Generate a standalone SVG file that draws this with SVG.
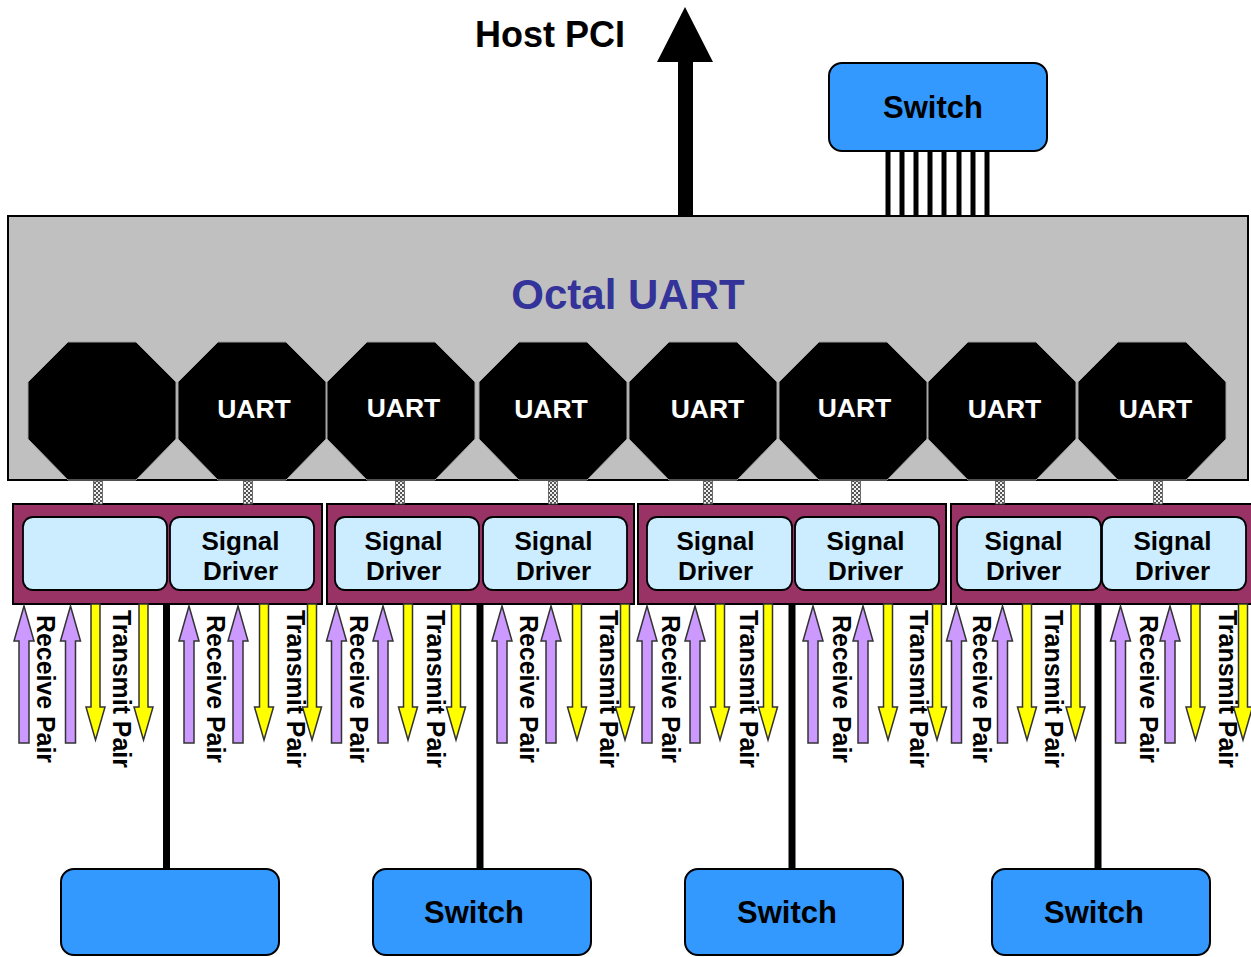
<svg xmlns="http://www.w3.org/2000/svg" xmlns:xlink="http://www.w3.org/1999/xlink" width="1251" height="957" viewBox="0 0 1251 957">
<style>
.t{font-family:"Liberation Sans",Arial,Helvetica,sans-serif;font-weight:bold}
.sw{fill:#3399FF;stroke:#000;stroke-width:2}
.swt{font-size:31px;fill:#000;text-anchor:middle}
.oct{fill:#000;stroke:#A0A0A0;stroke-width:1}
.ut{font-size:26.5px;fill:#fff;text-anchor:middle}
.board{fill:#993366;stroke:#000;stroke-width:2}
.drv{fill:#CCECFF;stroke:#000;stroke-width:1.8}
.dt{font-size:26px;fill:#000;text-anchor:middle}
.vt{font-size:26px;fill:#000}
.rx{fill:#CC99FF;stroke:#333;stroke-width:1.5}
.tx{fill:#FFFF00;stroke:#333;stroke-width:1.5}
.bus{stroke:#000;stroke-width:7}
.pin{stroke:#000;stroke-width:5}
.link{fill:url(#chk);stroke:#555;stroke-width:0.8}
</style>
<defs>
<pattern id="chk" width="4" height="4" patternUnits="userSpaceOnUse">
<rect width="4" height="4" fill="#eee"/>
<rect width="2" height="2" fill="#555"/>
<rect x="2" y="2" width="2" height="2" fill="#555"/>
</pattern>
<polygon id="octs" points="40,0 108,0 148,40 148,97 108,138 40,138 0,97 0,40"/>
<path id="up" d="M0,606 L10,641 L5,641 L5,743 L-5,743 L-5,641 L-10,641 Z"/>
<path id="down" d="M-4.5,604 L4.5,604 L4.5,707 L9.5,707 L0,740 L-9.5,707 L-4.5,707 Z"/>
</defs>
<rect width="1251" height="957" fill="#fff"/>

<g id="host-pci">
<text class="t" x="475" y="47" font-size="36" fill="#000">Host PCI</text>
</g>

<g id="switch-top">
<rect class="sw" x="829" y="63" width="218" height="88" rx="13"/>
<text class="t swt" x="933" y="118">Switch</text>
</g>

<g id="octal-uart">
<rect x="8" y="216" width="1240" height="264" fill="#C0C0C0" stroke="#000" stroke-width="2"/>
<text class="t" x="628" y="309" font-size="42" fill="#333399" text-anchor="middle">Octal UART</text>
</g>

<g id="uarts">
<g id="uart1"><use href="#octs" class="oct" x="28" y="342"/></g>
<g id="uart2"><use href="#octs" class="oct" x="178" y="342"/><text class="t ut" x="254" y="418">UART</text></g>
<g id="uart3"><use href="#octs" class="oct" x="327" y="342"/><text class="t ut" x="403.5" y="417">UART</text></g>
<g id="uart4"><use href="#octs" class="oct" x="479" y="342"/><text class="t ut" x="551" y="418">UART</text></g>
<g id="uart5"><use href="#octs" class="oct" x="629" y="342"/><text class="t ut" x="707.5" y="418">UART</text></g>
<g id="uart6"><use href="#octs" class="oct" x="779" y="342"/><text class="t ut" x="854.5" y="417">UART</text></g>
<g id="uart7"><use href="#octs" class="oct" x="928" y="342"/><text class="t ut" x="1004.5" y="418">UART</text></g>
<g id="uart8"><use href="#octs" class="oct" x="1078" y="342"/><text class="t ut" x="1155.5" y="418">UART</text></g>
</g>

<g id="board1">
<rect class="board" x="13" y="504" width="309" height="100"/>
<rect class="drv" x="23" y="517" width="144" height="73" rx="10"/>
<rect class="drv" x="170" y="517" width="144" height="73" rx="10"/>
<text class="t dt" x="240.5" y="550">Signal</text><text class="t dt" x="240.5" y="580">Driver</text>
</g>
<g id="board2">
<rect class="board" x="327" y="504" width="307" height="100"/>
<rect class="drv" x="335" y="517" width="144" height="73" rx="10"/>
<rect class="drv" x="483" y="517" width="144" height="73" rx="10"/>
<text class="t dt" x="403.5" y="550">Signal</text><text class="t dt" x="403.5" y="580">Driver</text>
<text class="t dt" x="553.5" y="550">Signal</text><text class="t dt" x="553.5" y="580">Driver</text>
</g>
<g id="board3">
<rect class="board" x="638" y="504" width="308" height="100"/>
<rect class="drv" x="647" y="517" width="145" height="73" rx="10"/>
<rect class="drv" x="795" y="517" width="144" height="73" rx="10"/>
<text class="t dt" x="715.5" y="550">Signal</text><text class="t dt" x="715.5" y="580">Driver</text>
<text class="t dt" x="865.5" y="550">Signal</text><text class="t dt" x="865.5" y="580">Driver</text>
</g>
<g id="board4">
<rect class="board" x="951" y="504" width="310" height="100"/>
<rect class="drv" x="957" y="517" width="144" height="73" rx="10"/>
<rect class="drv" x="1102" y="517" width="144" height="73" rx="10"/>
<text class="t dt" x="1023.5" y="550">Signal</text><text class="t dt" x="1023.5" y="580">Driver</text>
<text class="t dt" x="1172.5" y="550">Signal</text><text class="t dt" x="1172.5" y="580">Driver</text>
</g>

<g id="pair-labels">
<text class="t vt" transform="translate(37,615) rotate(90)" textLength="148" lengthAdjust="spacingAndGlyphs">Receive Pair</text>
<text class="t vt" transform="translate(113,610) rotate(90)" textLength="158" lengthAdjust="spacingAndGlyphs">Transmit Pair</text>
<text class="t vt" transform="translate(207,615) rotate(90)" textLength="148" lengthAdjust="spacingAndGlyphs">Receive Pair</text>
<text class="t vt" transform="translate(287,610) rotate(90)" textLength="158" lengthAdjust="spacingAndGlyphs">Transmit Pair</text>
<text class="t vt" transform="translate(350,615) rotate(90)" textLength="148" lengthAdjust="spacingAndGlyphs">Receive Pair</text>
<text class="t vt" transform="translate(427,610) rotate(90)" textLength="158" lengthAdjust="spacingAndGlyphs">Transmit Pair</text>
<text class="t vt" transform="translate(520,615) rotate(90)" textLength="148" lengthAdjust="spacingAndGlyphs">Receive Pair</text>
<text class="t vt" transform="translate(600,610) rotate(90)" textLength="158" lengthAdjust="spacingAndGlyphs">Transmit Pair</text>
<text class="t vt" transform="translate(662,615) rotate(90)" textLength="148" lengthAdjust="spacingAndGlyphs">Receive Pair</text>
<text class="t vt" transform="translate(740,610) rotate(90)" textLength="158" lengthAdjust="spacingAndGlyphs">Transmit Pair</text>
<text class="t vt" transform="translate(833,615) rotate(90)" textLength="148" lengthAdjust="spacingAndGlyphs">Receive Pair</text>
<text class="t vt" transform="translate(910,610) rotate(90)" textLength="158" lengthAdjust="spacingAndGlyphs">Transmit Pair</text>
<text class="t vt" transform="translate(973,615) rotate(90)" textLength="148" lengthAdjust="spacingAndGlyphs">Receive Pair</text>
<text class="t vt" transform="translate(1045,610) rotate(90)" textLength="158" lengthAdjust="spacingAndGlyphs">Transmit Pair</text>
<text class="t vt" transform="translate(1140,615) rotate(90)" textLength="148" lengthAdjust="spacingAndGlyphs">Receive Pair</text>
<text class="t vt" transform="translate(1219,610) rotate(90)" textLength="158" lengthAdjust="spacingAndGlyphs">Transmit Pair</text>
</g>

<g id="bottom-switches">
<g id="switch-b1"><rect class="sw" x="61" y="869" width="218" height="86" rx="13"/></g>
<g id="switch-b2"><rect class="sw" x="373" y="869" width="218" height="86" rx="13"/><text class="t swt" x="474" y="923">Switch</text></g>
<g id="switch-b3"><rect class="sw" x="685" y="869" width="218" height="86" rx="13"/><text class="t swt" x="787" y="923">Switch</text></g>
<g id="switch-b4"><rect class="sw" x="992" y="869" width="218" height="86" rx="13"/><text class="t swt" x="1094" y="923">Switch</text></g>
</g>

<g id="connectors">
<polygon points="678,216 678,62 657,62 685,7 713,62 693,62 693,216" fill="#000"/>
<line class="pin" x1="888" y1="151" x2="888" y2="216"/>
<line class="pin" x1="902" y1="151" x2="902" y2="216"/>
<line class="pin" x1="916" y1="151" x2="916" y2="216"/>
<line class="pin" x1="930" y1="151" x2="930" y2="216"/>
<line class="pin" x1="944" y1="151" x2="944" y2="216"/>
<line class="pin" x1="959" y1="151" x2="959" y2="216"/>
<line class="pin" x1="973" y1="151" x2="973" y2="216"/>
<line class="pin" x1="987" y1="151" x2="987" y2="216"/>
<rect class="link" x="93.5" y="481" width="9" height="23"/>
<rect class="link" x="243.5" y="481" width="9" height="23"/>
<rect class="link" x="395.5" y="481" width="9" height="23"/>
<rect class="link" x="548.5" y="481" width="9" height="23"/>
<rect class="link" x="703.5" y="481" width="9" height="23"/>
<rect class="link" x="851.5" y="481" width="9" height="23"/>
<rect class="link" x="995.5" y="481" width="9" height="23"/>
<rect class="link" x="1153.5" y="481" width="9" height="23"/>
<line class="bus" x1="166.5" y1="605" x2="166.5" y2="869"/>
<line class="bus" x1="480" y1="605" x2="480" y2="869"/>
<line class="bus" x1="792" y1="605" x2="792" y2="869"/>
<line class="bus" x1="1098" y1="605" x2="1098" y2="869"/>
<use href="#up" class="rx" x="24"/><use href="#up" class="rx" x="70.5"/>
<use href="#down" class="tx" x="95.5"/><use href="#down" class="tx" x="143.5"/>
<use href="#up" class="rx" x="189"/><use href="#up" class="rx" x="238"/>
<use href="#down" class="tx" x="264"/><use href="#down" class="tx" x="312"/>
<use href="#up" class="rx" x="336.5"/><use href="#up" class="rx" x="383"/>
<use href="#down" class="tx" x="408"/><use href="#down" class="tx" x="456"/>
<use href="#up" class="rx" x="502"/><use href="#up" class="rx" x="551"/>
<use href="#down" class="tx" x="577"/><use href="#down" class="tx" x="625"/>
<use href="#up" class="rx" x="647"/><use href="#up" class="rx" x="695"/>
<use href="#down" class="tx" x="720"/><use href="#down" class="tx" x="768"/>
<use href="#up" class="rx" x="813"/><use href="#up" class="rx" x="863"/>
<use href="#down" class="tx" x="888"/><use href="#down" class="tx" x="937"/>
<use href="#up" class="rx" x="956.5"/><use href="#up" class="rx" x="1002.5"/>
<use href="#down" class="tx" x="1027"/><use href="#down" class="tx" x="1075.5"/>
<use href="#up" class="rx" x="1120.5"/><use href="#up" class="rx" x="1170"/>
<use href="#down" class="tx" x="1195.5"/><use href="#down" class="tx" x="1243"/>
</g>
</svg>
